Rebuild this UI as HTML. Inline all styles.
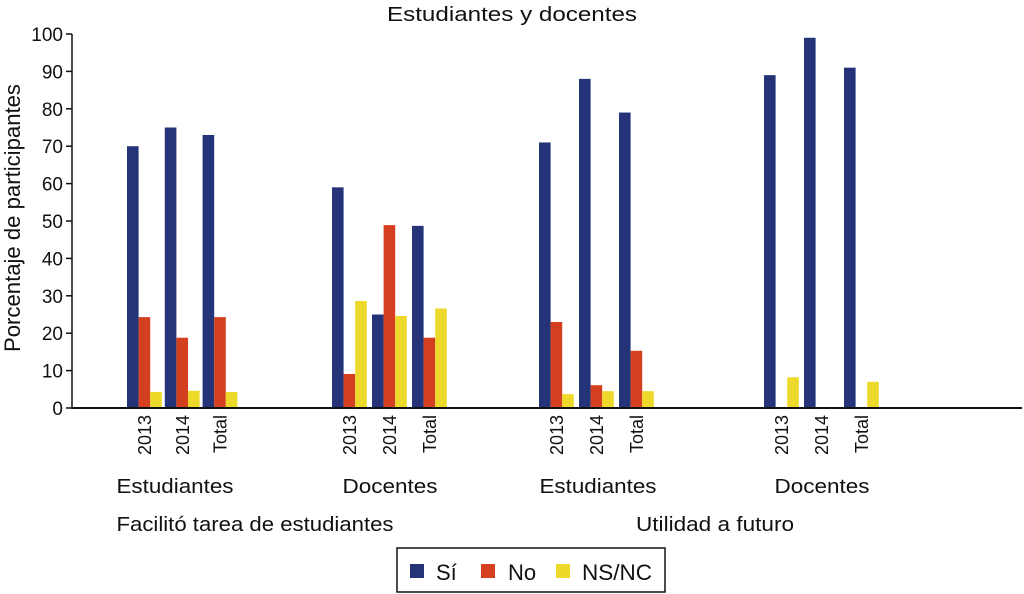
<!DOCTYPE html>
<html><head><meta charset="utf-8"><style>
html,body{margin:0;padding:0;background:#fff;}
svg{display:block;font-family:"Liberation Sans",Arial,sans-serif;}
</style></head><body>
<svg id="chart" width="1024" height="594" viewBox="0 0 1024 594">
<text x="512" y="21" text-anchor="middle" font-size="20" textLength="250" lengthAdjust="spacingAndGlyphs" fill="#111">Estudiantes y docentes</text>
<text transform="translate(20,218) rotate(-90)" text-anchor="middle" font-size="22" textLength="268" lengthAdjust="spacingAndGlyphs" fill="#111">Porcentaje de participantes</text>
<g id="yaxis"></g>
<g id="bars"></g>
<g id="xlabels"></g>
<line x1="72" y1="408" x2="1022" y2="408" stroke="#111" stroke-width="2"/>
<line x1="72" y1="34" x2="72" y2="409" stroke="#111" stroke-width="1.5"/>
<text x="175" y="493" text-anchor="middle" font-size="20" textLength="117" lengthAdjust="spacingAndGlyphs" fill="#111">Estudiantes</text>
<text x="390" y="493" text-anchor="middle" font-size="20" textLength="95" lengthAdjust="spacingAndGlyphs" fill="#111">Docentes</text>
<text x="598" y="493" text-anchor="middle" font-size="20" textLength="117" lengthAdjust="spacingAndGlyphs" fill="#111">Estudiantes</text>
<text x="822" y="493" text-anchor="middle" font-size="20" textLength="95" lengthAdjust="spacingAndGlyphs" fill="#111">Docentes</text>
<text x="255" y="531" text-anchor="middle" font-size="20" textLength="277" lengthAdjust="spacingAndGlyphs" fill="#111">Facilitó tarea de estudiantes</text>
<text x="715" y="531" text-anchor="middle" font-size="20" textLength="158" lengthAdjust="spacingAndGlyphs" fill="#111">Utilidad a futuro</text>
<g>
<rect x="397" y="548" width="268" height="44" fill="#fff" stroke="#111" stroke-width="1.5"/>
<rect x="410" y="564" width="14" height="14" fill="#253478"/>
<text x="436" y="580" font-size="22" fill="#111">Sí</text>
<rect x="481" y="564" width="14" height="14" fill="#d4401f"/>
<text x="508" y="580" font-size="22" fill="#111">No</text>
<rect x="556" y="564" width="14" height="14" fill="#ecd92a"/>
<text x="582" y="580" font-size="22" textLength="70" lengthAdjust="spacingAndGlyphs" fill="#111">NS/NC</text>
</g>
</svg>
<script>
const categories = ["2013","2014","Total","2013","2014","Total","2013","2014","Total","2013","2014","Total"];
const siValues = [70,75,73, 59,25,48.7, 71,88,79, 89,99,91];
const noValues = [24.3,18.8,24.3, 9.1,48.9,18.8, 23,6.1,15.3, 0,0,0];
const nsncValues = [4.3,4.6,4.3, 28.6,24.6,26.6, 3.7,4.5,4.5, 8.2,0,7];
const yTicks = [0,10,20,30,40,50,60,70,80,90,100];

const NS = "http://www.w3.org/2000/svg";
function yScale(v){ return 408 - v * 3.74; }
const groupStart = [127, 332, 539, 764];
function xScale(i){ const g = Math.floor(i/3), k = i % 3; return groupStart[g] + k * (g === 0 ? 37.8 : 40); }
const BW = 11.6;

const yaxis = document.getElementById('yaxis');
yTicks.forEach(t => {
  const y = yScale(t);
  const l = document.createElementNS(NS,'line');
  l.setAttribute('x1',66); l.setAttribute('x2',72); l.setAttribute('y1',y); l.setAttribute('y2',y);
  l.setAttribute('stroke','#111'); l.setAttribute('stroke-width','1.5');
  
  
  yaxis.appendChild(l);
  const tx = document.createElementNS(NS,'text');
  tx.setAttribute('x',63); tx.setAttribute('y',y+7); tx.setAttribute('text-anchor','end');
  tx.setAttribute('font-size','19'); tx.setAttribute('fill','#111');
  tx.textContent = t;
  
  
  yaxis.appendChild(tx);
});

const bars = document.getElementById('bars');
const series = [[siValues,'#253478','si'],[noValues,'#d4401f','no'],[nsncValues,'#ecd92a','nsnc']];
categories.forEach((c,i) => {
  const x0 = xScale(i);
  series.forEach((s,j) => {
    const v = s[0][i];
    if (v <= 0) return;
    const r = document.createElementNS(NS,'rect');
    r.setAttribute('x', x0 + j*BW);
    r.setAttribute('y', yScale(v));
    r.setAttribute('width', BW);
    r.setAttribute('height', 408 - yScale(v));
    r.setAttribute('fill', s[1]);
    
    
    bars.appendChild(r);
  });
  const lbl = document.createElementNS(NS,'text');
  const cx = x0 + 18;
  lbl.setAttribute('transform','translate(' + (cx+6) + ',415) rotate(-90)');
  lbl.setAttribute('text-anchor','end');
  lbl.setAttribute('font-size','18'); lbl.setAttribute('fill','#111');
  lbl.textContent = c;
  
  
  document.getElementById('xlabels').appendChild(lbl);
});
</script>
</body></html>
